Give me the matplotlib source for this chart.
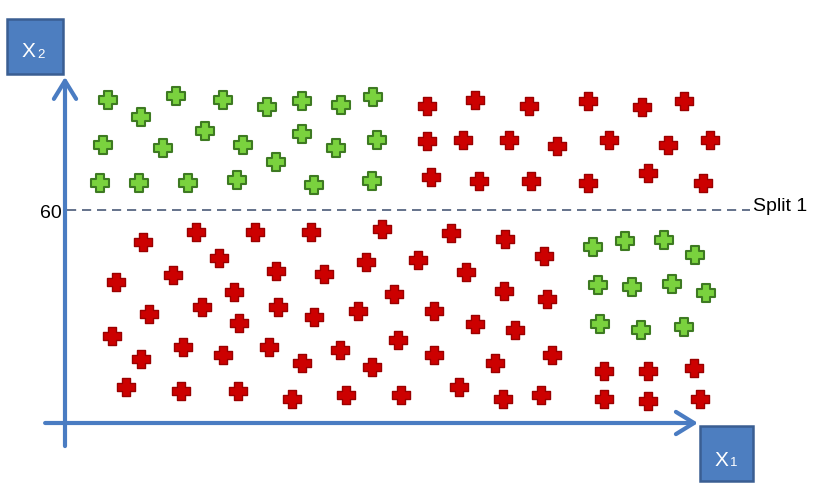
import numpy as np
import matplotlib.pyplot as plt
from matplotlib.path import Path
from matplotlib.patches import Rectangle

plt.rcParams['font.family'] = ['Liberation Sans', 'DejaVu Sans']

# class "green" points (x1, x2)
green_x1 = [12.1, 31.3, 44.5, 56.9, 66.8, 77.7, 86.8,
            21.4, 10.7, 27.6, 39.4, 50.1, 59.4, 66.8, 76.3, 87.9,
            9.9, 20.8, 34.6, 48.5, 70.1, 86.5,
            148.7, 157.8, 168.7, 177.5, 150.1, 159.7, 171.0, 180.6,
            150.7, 162.3, 174.4]
green_x2 = [91.0, 92.1, 91.0, 89.0, 90.7, 89.6, 91.8,
            86.2, 78.3, 77.5, 82.3, 78.3, 73.5, 81.4, 77.5, 79.7,
            67.6, 67.6, 67.6, 68.5, 67.0, 68.2,
            49.6, 51.3, 51.6, 47.3, 38.9, 38.3, 39.2, 36.6,
            27.9, 26.2, 27.0]

# class "red" points (x1, x2)
red_x1 = [102.0, 115.5, 130.7, 147.3, 162.5, 174.4,
          102.0, 112.1, 125.1, 138.6, 153.2, 169.9, 181.7,
          103.1, 116.6, 131.3, 147.3, 164.2, 179.7,
          22.0, 36.9, 53.5, 69.3, 89.3, 43.4, 84.8, 14.4, 30.4, 59.4, 73.0,
          47.6, 92.7, 23.7, 38.6, 60.0, 70.1, 82.5, 49.0, 13.2, 93.8,
          33.2, 57.5, 77.5, 21.4, 44.5, 66.8, 86.5,
          17.2, 32.7, 48.7, 63.9, 79.2, 94.7,
          108.7, 123.9, 99.4, 134.9, 113.0, 123.7, 135.8, 103.9, 115.5, 126.8,
          103.9, 121.1, 137.2, 111.0, 123.4, 134.1,
          151.8, 164.2, 177.2, 151.8, 164.2, 178.9]
red_x2 = [89.3, 91.0, 89.3, 90.7, 89.0, 90.7,
          79.4, 79.7, 79.7, 78.0, 79.7, 78.3, 79.7,
          69.3, 68.2, 68.2, 67.6, 70.4, 67.6,
          51.0, 53.8, 53.8, 53.8, 54.6, 46.5, 45.4, 39.7, 41.7, 42.8, 42.0,
          36.9, 36.3, 30.7, 32.7, 32.7, 29.9, 31.6, 28.2, 24.5, 23.4,
          21.4, 21.4, 20.6, 18.0, 19.2, 16.9, 15.8,
          10.1, 9.0, 9.0, 6.8, 7.9, 7.9,
          53.5, 51.8, 45.9, 47.0, 42.5, 37.2, 34.9, 31.6, 27.9, 26.2,
          19.2, 16.9, 19.2, 10.1, 6.8, 7.9,
          14.6, 14.6, 15.5, 6.8, 6.2, 6.8]

split_value = 60
split_label = "Split 1"

W, H = 823, 502
S = 3.55            # pixels per unit
ox, oy = 65, 424    # origin in pixels

fig = plt.figure(figsize=(W / 100, H / 100), dpi=100)
ax = fig.add_axes([0, 0, 1, 1])
ax.set_xlim(-ox / S, (W - ox) / S)
ax.set_ylim((oy - H) / S, oy / S)
ax.axis('off')

a = 0.4
plus = Path([(-a, -1), (-a, -a), (-1, -a), (-1, a), (-a, a), (-a, 1),
             (a, 1), (a, a), (1, a), (1, -a), (a, -a), (a, -1), (-a, -1)],
            closed=True)

ax.plot(red_x1, red_x2, ls='none', marker=plus, ms=13.5,
        mfc='#cc0000', mec='#9a0000', mew=1.0, zorder=3)
ax.plot(green_x1, green_x2, ls='none', marker=plus, ms=13.5,
        mfc='#7ad23e', mec='#3e7a22', mew=1.5, zorder=3)

# split line
ax.plot([0.5, 193], [split_value, split_value], color='#4a5a78', lw=1.2,
        dashes=(5.5, 3.5), zorder=2)
ax.text(-0.9, 58.0, str(split_value), ha='right', va='baseline', fontsize=14)
ax.text(193.8, 60.0, split_label, ha='left', va='baseline', fontsize=14)

# axes arrows
blue = '#4a7cc2'
style = '->,head_length=1.3,head_width=0.8'
ax.annotate('', xy=(0, 97.5), xytext=(0, -6.5),
            arrowprops=dict(arrowstyle=style, lw=3, color=blue,
                            mutation_scale=10, shrinkA=0, shrinkB=0))
ax.annotate('', xy=(178.3, 0), xytext=(-5.6, 0),
            arrowprops=dict(arrowstyle=style, lw=3, color=blue,
                            mutation_scale=10, shrinkA=0, shrinkB=0))


def box(x0, y0, x1, y1, sub, tx, ty, sx, sy):
    fig.patches.append(Rectangle((x0 / W, 1 - y1 / H), (x1 - x0) / W,
                                 (y1 - y0) / H, transform=fig.transFigure,
                                 facecolor='#4d7ec0', edgecolor='#3a5e92',
                                 lw=1.8, zorder=5))
    fig.text(tx / W, 1 - ty / H, 'X', color='white', fontsize=15,
             ha='left', va='baseline', zorder=6)
    fig.text(sx / W, 1 - sy / H, sub, color='white', fontsize=9.5,
             ha='left', va='baseline', zorder=6)


box(7, 20, 63, 75, '2', 22, 57, 37, 58)
box(700, 427, 753, 482, '1', 715, 466, 730, 466)

fig.savefig('out.png', dpi=100)
